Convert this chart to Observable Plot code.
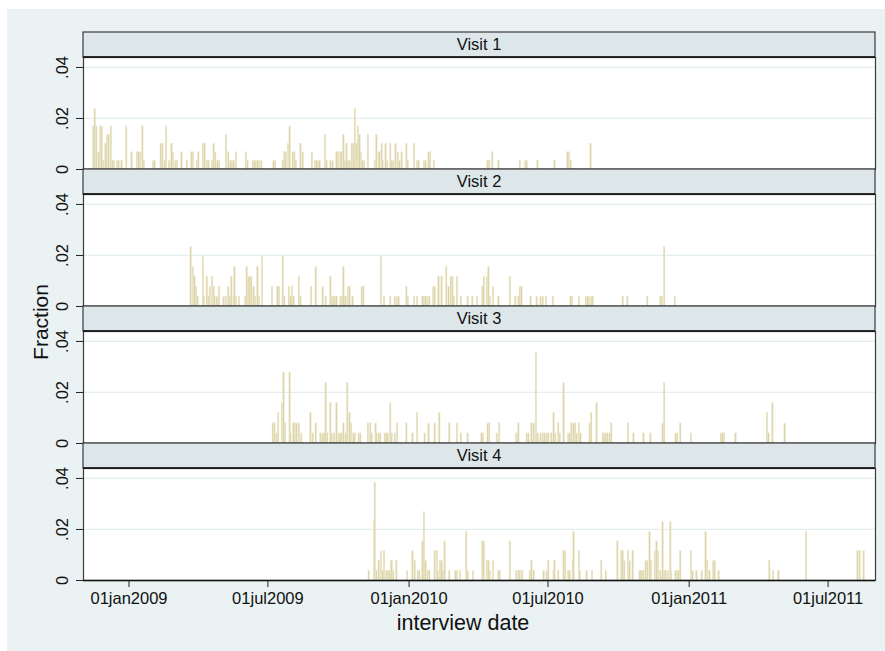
<!DOCTYPE html>
<html><head><meta charset="utf-8">
<script src="https://cdn.jsdelivr.net/npm/d3@7"></script>
<script src="https://cdn.jsdelivr.net/npm/@observablehq/plot@0.6"></script>
<style>
html,body{margin:0;padding:0;background:#fff;}
#bg{position:absolute;left:7px;top:9px;width:878px;height:642px;background:#EAF2F3;}
#chart{position:absolute;left:0;top:0;}
</style></head><body><div id="bg"></div><div id="chart"></div>
<script>
// Panels (facets) and the number of interviews per visit (fraction = count / N)
const visits = ["Visit 1", "Visit 2", "Visit 3", "Visit 4"];
const visitN = [296, 258, 253, 261];

// Histogram bins: [day of interview (days since 01jan2009), count]
const visit1 = [[-46,5],[-44,7],[-42,5],[-39,2],[-37,5],[-35,5],[-33,1],[-30,3],[-28,4],[-26,4],[-23,5],[-21,1],[-19,1],[-15,1],[-13,1],[-9,1],[-3,5],[4,2],[11,2],[13,2],[15,2],[18,5],[20,1],[32,1],[34,1],[42,3],[44,3],[47,1],[49,5],[53,1],[56,3],[58,2],[61,1],[63,1],[69,2],[76,1],[82,2],[84,2],[89,1],[91,2],[97,3],[99,3],[102,1],[104,1],[109,1],[111,3],[113,2],[116,1],[118,1],[127,4],[130,2],[133,1],[135,1],[137,1],[140,2],[153,2],[155,1],[162,1],[164,1],[166,1],[168,1],[170,1],[173,1],[189,1],[191,1],[201,1],[203,2],[205,2],[208,3],[210,5],[214,2],[216,2],[218,1],[224,3],[227,2],[239,2],[243,1],[245,1],[247,1],[249,1],[256,4],[258,1],[263,1],[266,1],[271,2],[273,2],[276,2],[278,2],[280,4],[282,1],[284,3],[286,1],[288,1],[291,3],[293,3],[295,7],[297,3],[298,1],[299,5],[301,4],[303,2],[305,1],[307,1],[312,4],[321,1],[323,4],[326,2],[327,2],[330,3],[331,1],[335,3],[337,1],[341,3],[343,1],[345,1],[348,3],[351,2],[353,1],[356,2],[362,3],[364,1],[372,3],[376,1],[378,1],[385,1],[387,1],[391,2],[393,2],[398,1],[468,1],[470,1],[474,2],[482,1],[510,1],[517,1],[519,1],[533,1],[555,1],[572,2],[574,2],[576,1],[602,3]];
const visit2 = [[81,6],[84,4],[86,3],[88,2],[90,1],[97,5],[98,1],[102,3],[104,1],[106,2],[109,3],[111,2],[112,1],[115,1],[117,1],[118,2],[124,1],[127,1],[130,2],[132,1],[134,3],[137,1],[138,4],[140,1],[144,1],[152,1],[154,4],[156,3],[158,3],[160,3],[163,2],[165,1],[168,4],[170,1],[174,5],[187,2],[194,2],[196,2],[201,5],[203,1],[209,2],[211,1],[213,2],[215,1],[222,3],[224,1],[238,2],[244,4],[253,2],[257,1],[263,3],[265,1],[267,1],[269,1],[271,1],[276,1],[277,1],[279,1],[280,4],[282,1],[283,1],[286,2],[288,2],[292,1],[304,2],[306,2],[329,5],[333,1],[341,1],[347,1],[350,1],[352,1],[362,2],[364,1],[372,1],[376,1],[383,1],[385,1],[387,1],[389,1],[392,1],[397,2],[399,2],[404,3],[408,3],[414,4],[417,2],[420,3],[422,3],[424,1],[428,3],[433,1],[442,1],[448,1],[454,1],[461,2],[463,3],[467,3],[469,4],[471,1],[475,2],[482,1],[497,3],[504,1],[508,1],[510,2],[512,2],[524,1],[532,1],[537,1],[540,1],[544,1],[553,1],[576,1],[578,1],[587,1],[596,1],[598,1],[600,1],[603,1],[605,1],[644,1],[650,1],[676,1],[693,1],[695,1],[698,6],[712,1]];
const visit3 = [[188,2],[190,2],[193,1],[195,3],[200,4],[202,7],[204,2],[210,7],[211,1],[215,2],[217,2],[219,2],[222,2],[225,1],[237,3],[240,1],[244,2],[250,1],[253,1],[255,1],[257,6],[259,1],[263,4],[265,1],[268,1],[271,4],[274,1],[276,1],[278,1],[280,2],[283,1],[285,6],[288,3],[290,2],[293,1],[295,1],[300,1],[302,1],[312,2],[315,2],[317,1],[322,2],[323,1],[326,1],[328,1],[334,1],[336,1],[338,1],[341,4],[343,1],[347,1],[350,2],[362,2],[370,1],[376,3],[386,1],[391,2],[399,2],[405,3],[418,2],[428,2],[433,1],[442,1],[460,1],[462,1],[468,2],[470,2],[480,1],[483,2],[505,1],[507,1],[508,2],[519,1],[521,1],[525,2],[528,2],[531,9],[533,1],[537,1],[540,1],[542,1],[545,1],[547,1],[551,1],[554,3],[556,1],[560,2],[562,1],[567,6],[573,1],[575,1],[577,2],[580,2],[582,2],[584,1],[587,2],[589,1],[601,2],[603,3],[610,4],[618,1],[620,1],[622,1],[624,1],[627,1],[629,2],[651,2],[658,1],[671,1],[680,1],[696,2],[698,6],[713,1],[715,1],[719,2],[733,1],[772,1],[774,1],[776,1],[791,1],[832,3],[834,1],[839,4],[855,2]];
const visit4 = [[313,1],[320,6],[321,10],[323,1],[326,2],[329,3],[331,1],[333,3],[336,1],[338,1],[340,1],[342,2],[343,2],[345,1],[349,2],[363,1],[370,3],[373,2],[377,1],[379,1],[383,4],[385,7],[387,2],[390,1],[392,1],[399,3],[402,3],[403,1],[406,2],[408,2],[410,1],[412,4],[418,1],[426,1],[428,1],[432,1],[440,5],[442,1],[449,1],[461,4],[463,4],[467,2],[469,2],[471,1],[475,2],[482,1],[484,1],[497,4],[505,1],[508,1],[510,1],[513,1],[523,1],[525,2],[528,1],[541,1],[545,1],[547,2],[554,1],[555,2],[560,1],[567,3],[569,3],[573,1],[575,1],[579,2],[580,5],[587,3],[588,1],[597,1],[604,1],[616,2],[622,1],[637,4],[642,3],[644,3],[646,2],[651,3],[653,2],[657,3],[666,1],[667,1],[669,1],[671,1],[674,2],[676,2],[679,5],[681,2],[686,3],[688,4],[690,3],[693,1],[696,6],[698,1],[700,1],[703,1],[706,6],[707,1],[713,1],[715,1],[717,1],[719,3],[733,3],[735,1],[740,1],[747,1],[752,5],[754,2],[757,1],[762,2],[764,2],[769,1],[835,2],[840,1],[847,1],[883,5],[950,3],[953,3],[958,3]];
const series = [visit1, visit2, visit3, visit4];

// Axis ticks
const xTicks = ["2009-01-01", "2009-07-01", "2010-01-01", "2010-07-01", "2011-01-01", "2011-07-01"];
const yTicks = [0, 0.02, 0.04];
const yTickLabels = ["0", ".02", ".04"];
const gridTicks = [0.02, 0.04];

const DAY = 864e5;
const base = Date.UTC(2009, 0, 1);
const dayToDate = d => new Date(base + d * DAY);

const rows = visits.flatMap((v, i) => series[i].map(([day, count]) => ({
  visit: v,
  start: dayToDate(day - 1),
  end: dayToDate(day + 1),
  fraction: count / visitN[i]
})));

const fmtDate = d => d3.utcFormat("%d%b%Y")(d).toLowerCase();
const FONT = "'Liberation Sans', Arial, Helvetica, sans-serif";

const chart = Plot.plot({
  width: 885, height: 651,
  marginLeft: 83, marginRight: 10, marginTop: 57, marginBottom: 71,
  style: {background: "transparent", fontFamily: FONT, overflow: "visible"},
  x: {type: "utc", domain: [new Date(Date.UTC(2008, 10, 2, 17)), new Date(Date.UTC(2011, 7, 31, 19))], axis: null, label: null},
  y: {domain: [0, 0.0439], axis: null, label: null},
  fy: {domain: visits, axis: null, label: null, paddingInner: 25 / 137, paddingOuter: 0, round: false},
  marks: [
    Plot.frame({fill: "white"}),
    Plot.ruleY(gridTicks, {stroke: "#E4EEEF", strokeWidth: 1.2}),
    Plot.rectY(rows, {x1: "start", x2: "end", y: "fraction", fy: "visit", fill: "#DBD3A6", stroke: "#EEEAD2", strokeWidth: 0.5}),
    Plot.frame({stroke: "#3a3a3a", strokeWidth: 1.2}),
    Plot.ruleY([0], {stroke: "#111", strokeWidth: 1.4}),
    Plot.axisY({ticks: yTicks, tickSize: 7, tickFormat: () => "", stroke: "#222", label: null}),
    Plot.text(yTicks, {y: d => d, text: (d, i) => yTickLabels[i], frameAnchor: "left", dx: -21, rotate: -90,
      textAnchor: "middle", lineAnchor: "middle", fontSize: 16.5, fill: "#111"}),
    Plot.axisX({ticks: xTicks.map(s => new Date(s + "T00:00:00Z")), tickFormat: fmtDate, tickSize: 7, tickPadding: 5,
      fontSize: 16.5, facetAnchor: "bottom", stroke: "#222", fill: "#111", label: null})
  ]
});
document.getElementById("chart").appendChild(chart);

// Facet header strips ("Visit n") built from the fy and x scales
const fy = chart.scale("fy"), xs = chart.scale("x");
const [xL, xR] = xs.range;
const headerH = fy.step - fy.bandwidth;
const svg = d3.select(chart);
const g = svg.append("g");
visits.forEach(v => {
  const top = fy.apply(v) - headerH;
  g.append("rect").attr("x", xL).attr("y", top).attr("width", xR - xL).attr("height", headerH)
    .attr("fill", "#DDE7EA").attr("stroke", "#3a3a3a").attr("stroke-width", 1.2);
  g.append("line").attr("x1", xL).attr("x2", xR).attr("y1", top + headerH).attr("y2", top + headerH)
    .attr("stroke", "#111").attr("stroke-width", 1.4);
  g.append("text").attr("x", (xL + xR) / 2).attr("y", top + headerH / 2).attr("dy", "0.36em")
    .attr("text-anchor", "middle").attr("font-size", 16.5).attr("font-family", FONT).attr("fill", "#111").text(v);
});
// Axis titles
svg.append("text").attr("transform", "translate(40,322) rotate(-90)").attr("text-anchor", "middle")
  .attr("dy", "0.36em").attr("font-size", 21).attr("font-family", FONT).attr("fill", "#111").text("Fraction");
svg.append("text").attr("x", 463).attr("y", 622).attr("text-anchor", "middle").attr("dy", "0.36em")
  .attr("font-size", 21.5).attr("font-family", FONT).attr("fill", "#111").text("interview date");
</script></body></html>
